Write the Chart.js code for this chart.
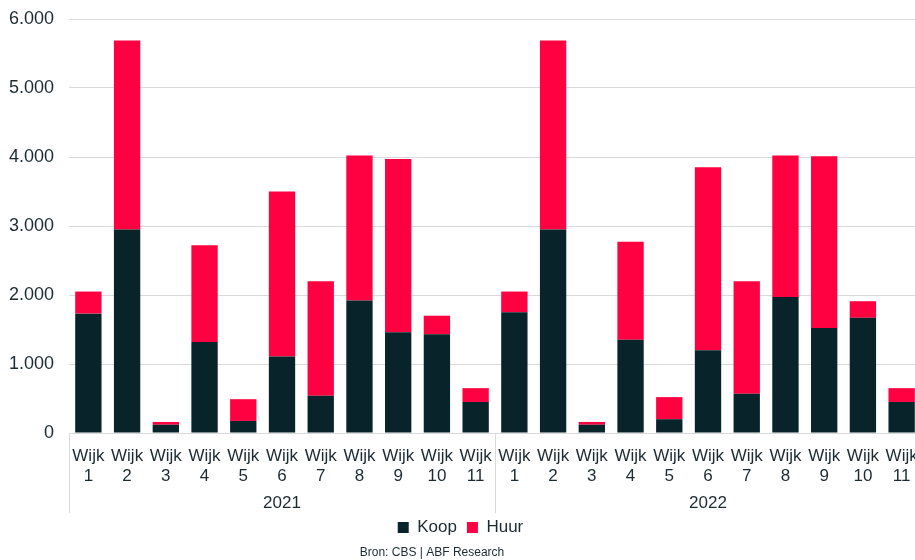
<!DOCTYPE html>
<html>
<head>
<meta charset="utf-8">
<script src="https://cdn.jsdelivr.net/npm/chart.js@4/dist/chart.umd.min.js"></script>
<style>
  html, body { margin: 0; padding: 0; background: #fff; }
  #clip { width: 915px; height: 560px; overflow: hidden; }
  #wrap { width: 940px; height: 560px; position: relative; }
</style>
</head>
<body>
<div id="clip"><div id="wrap"><canvas id="chart"></canvas></div></div>
<script>
const JAREN = ['2021', '2022'];
const WIJKEN = ['1', '2', '3', '4', '5', '6', '7', '8', '9', '10', '11'];
const KOOP_2021 = [1730, 2950, 120, 1320, 175, 1110, 540, 1920, 1460, 1430, 450];
const HUUR_2021 = [320, 2740, 40, 1400, 315, 2390, 1660, 2100, 2510, 270, 200];
const KOOP_2022 = [1750, 2950, 120, 1350, 200, 1200, 570, 1970, 1520, 1670, 450];
const HUUR_2022 = [300, 2740, 40, 1420, 320, 2650, 1630, 2050, 2490, 240, 200];
const Y_TICKS = [0, 1000, 2000, 3000, 4000, 5000, 6000];
const BRON = 'Bron: CBS | ABF Research';

const TEXT = '#1c2b31';
const GRID = '#d9d9d9';
const FONT = "'Liberation Sans', Arial, sans-serif";

const labels = JAREN.flatMap(() => WIJKEN.map(w => ['Wijk', w]));

// year row + separators below the category ticks, source line at the bottom
const groupPlugin = {
    id: 'groups',
    afterDraw(chart) {
        const x = chart.scales.x, ctx = chart.ctx;
        const n = WIJKEN.length;
        const bounds = [x.left];
        for (let g = 1; g < JAREN.length; g++) {
            bounds.push((x.getPixelForValue(g * n - 1) + x.getPixelForValue(g * n)) / 2);
        }
        ctx.save();
        ctx.strokeStyle = GRID; ctx.lineWidth = 1;
        bounds.forEach(b => {
            const px = Math.round(b) + 0.5;
            ctx.beginPath(); ctx.moveTo(px, x.top); ctx.lineTo(px, x.top + 80); ctx.stroke();
        });
        bounds.push(x.right);
        ctx.fillStyle = TEXT; ctx.font = '17px ' + FONT;
        ctx.textAlign = 'center'; ctx.textBaseline = 'middle';
        JAREN.forEach((j, g) => ctx.fillText(j, (bounds[g] + bounds[g + 1]) / 2, x.top + 70));
        ctx.font = '12px ' + FONT;
        ctx.fillText(BRON, 432, chart.height - 7);
        ctx.restore();
    }
};

new Chart(document.getElementById('chart'), {
    type: 'bar',
    data: {
        labels: labels,
        datasets: [
            { label: 'Koop', data: KOOP_2021.concat(KOOP_2022), backgroundColor: '#08242a' },
            { label: 'Huur', data: HUUR_2021.concat(HUUR_2022), backgroundColor: '#ff0041' }
        ]
    },
    options: {
        responsive: true, maintainAspectRatio: false, animation: false,
        layout: { padding: { top: 0, right: 19, bottom: 14, left: 0 } },
        datasets: { bar: { categoryPercentage: 1, barPercentage: 0.68 } },
        scales: {
            x: {
                stacked: true,
                grid: { display: false },
                border: { color: GRID },
                ticks: { color: TEXT, font: { family: FONT, size: 17 }, maxRotation: 0, autoSkip: false, padding: 5 },
                afterFit: s => { s.height = 76; s.paddingRight = 0; }
            },
            y: {
                stacked: true, min: 0, max: 6000,
                afterBuildTicks: s => { s.ticks = Y_TICKS.map(v => ({ value: v })); },
                afterFit: s => { s.width = 69; s.paddingTop = 19; },
                grid: { color: GRID, drawTicks: false },
                border: { display: false },
                ticks: {
                    color: TEXT, font: { family: FONT, size: 18 }, padding: 15,
                    callback: v => String(v).replace(/\B(?=(\d{3})+(?!\d))/g, '.')
                }
            }
        },
        plugins: {
            legend: {
                position: 'bottom',
                labels: { color: TEXT, font: { family: FONT, size: 17 }, boxWidth: 11, boxHeight: 11, padding: 10 }
            },
            tooltip: { enabled: false }
        }
    },
    plugins: [groupPlugin]
});
</script>
</body>
</html>
